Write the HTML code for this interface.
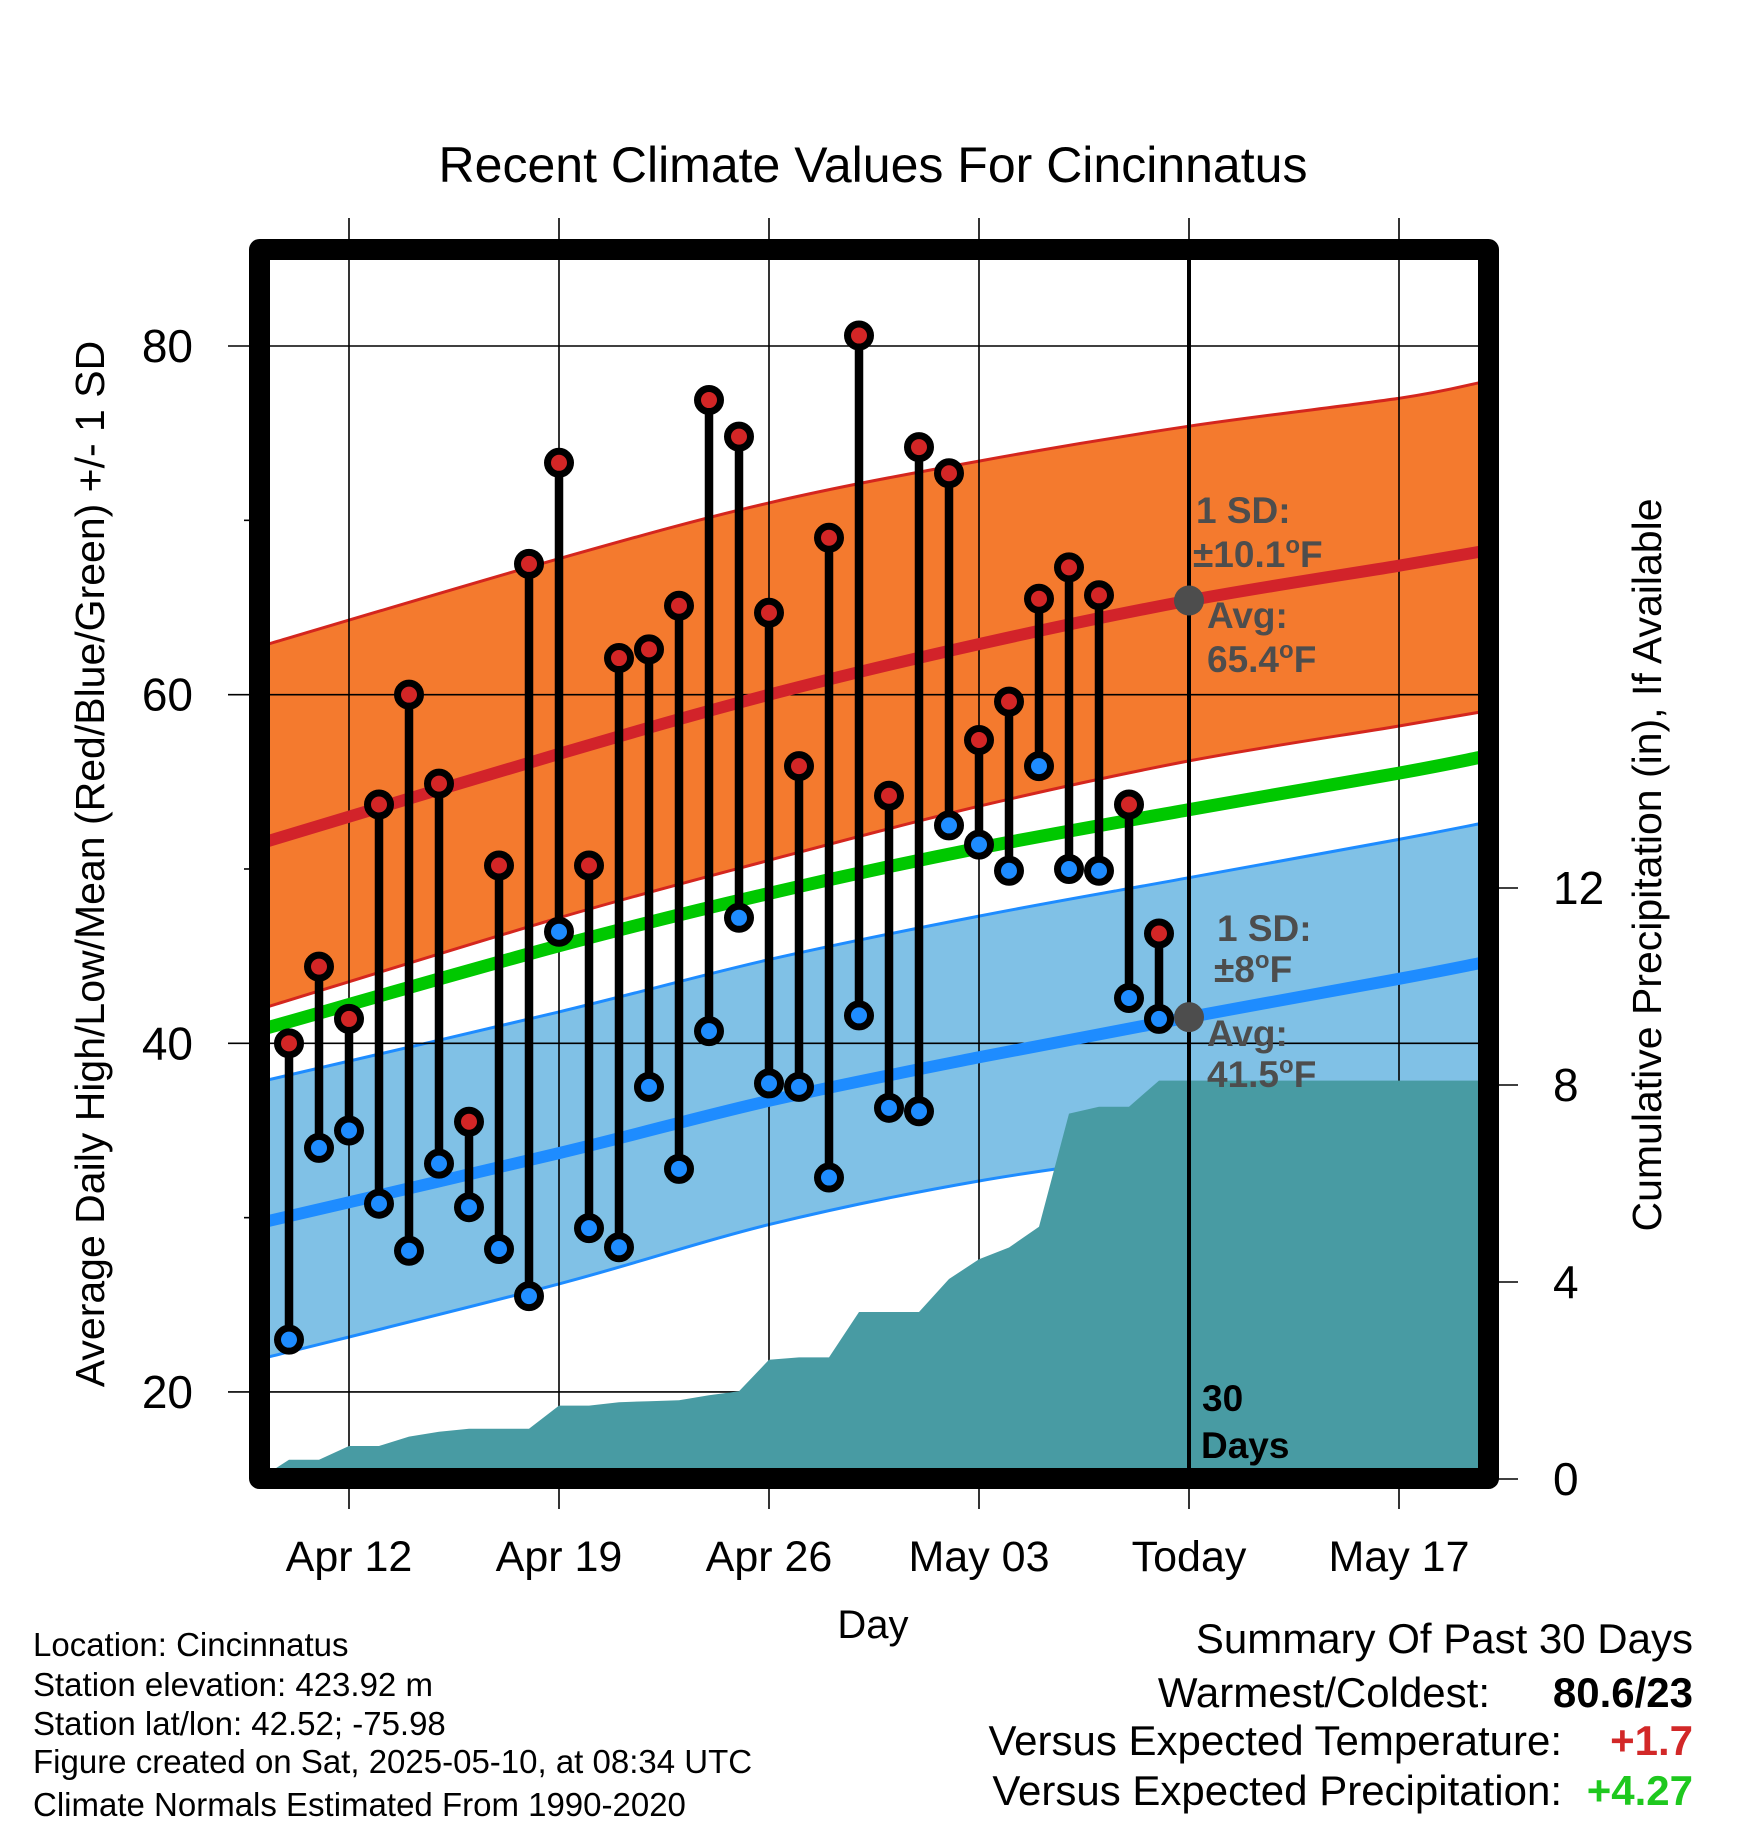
<!DOCTYPE html>
<html><head><meta charset="utf-8"><title>Recent Climate Values For Cincinnatus</title>
<style>
html,body{margin:0;padding:0;background:#fff;}
svg{display:block;font-family:"Liberation Sans",Arial,sans-serif;}
</style></head>
<body>
<svg id="chart" width="1748" height="1828" viewBox="0 0 1748 1828" xmlns="http://www.w3.org/2000/svg">
<defs><clipPath id="plotclip"><rect x="270" y="260" width="1208" height="1208"/></clipPath></defs>
<g id="layer-bands" clip-path="url(#plotclip)"></g>
<g id="layer-grid"></g>
<g id="layer-lines" clip-path="url(#plotclip)"></g>
<g id="layer-precip" clip-path="url(#plotclip)"></g>
<g id="layer-marks"></g>
<g id="layer-text"></g>
</svg>
<script>
// ---- data ----
const dayLabels = ["Apr 12","Apr 19","Apr 26","May 03","Today","May 17"];
const dayTicks = [0,7,14,21,28,35];
const tempTicks = [20,40,60,80];
const tempMinorTicks = [30,50,70];
const precipTicks = [0,4,8,12];
const obsDays = [-2,-1,0,1,2,3,4,5,6,7,8,9,10,11,12,13,14,15,16,17,18,19,20,21,22,23,24,25,26,27];
const highs = [40.0,44.4,41.4,53.7,60.0,54.9,35.5,50.2,67.5,73.3,50.2,62.1,62.6,65.1,76.9,74.8,64.7,55.9,69.0,80.6,54.2,74.2,72.7,57.4,59.6,65.5,67.3,65.7,53.7,46.3];
const lows = [23.0,34.0,35.0,30.8,28.1,33.1,30.6,28.2,25.5,46.4,29.4,28.3,37.5,32.8,40.7,47.2,37.7,37.5,32.3,41.6,36.3,36.1,52.5,51.4,49.9,55.9,50.0,49.9,42.6,41.4];
const precipDays = [-3,-2,-1,0,1,2,3,4,5,6,7,8,9,10,11,12,13,14,15,16,17,18,19,20,21,22,23,24,25,26,27,38];
const precip = [0,0.39,0.39,0.67,0.67,0.86,0.96,1.02,1.02,1.02,1.49,1.49,1.56,1.58,1.60,1.70,1.78,2.42,2.47,2.47,3.39,3.39,3.39,4.06,4.46,4.70,5.12,7.42,7.56,7.56,8.09,8.09];
const normDays = [-2.7,7,14,21,28,35,37.7];
const normHigh = [51.6,56.6,60.0,62.9,65.4,67.4,68.2];
const normHighTop = [62.9,67.8,71.0,73.4,75.4,77.0,77.9];
const normHighBot = [42.1,47.2,50.5,53.6,56.2,58.2,59.0];
const normMean = [40.9,45.6,48.6,51.2,53.4,55.5,56.4];
const normLow = [29.8,33.7,36.7,39.2,41.5,43.7,44.6];
const normLowTop = [37.9,41.8,44.8,47.3,49.5,51.7,52.6];
const normLowBot = [22.0,26.2,29.6,32.1,33.8,35.3,35.8];

// ---- axes ----
const X = d => 349 + 30.0 * d;
const Y = v => 346 + (80 - v) * 17.433;
const P = p => 1479 - 49.25 * p;
const NS = "http://www.w3.org/2000/svg";
function mk(tag, attrs, parent, txt){
  const e = document.createElementNS(NS, tag);
  for (const k in attrs) e.setAttribute(k, attrs[k]);
  if (txt !== undefined) e.textContent = txt;
  parent.appendChild(e);
  return e;
}
// smooth Catmull-Rom path through points (drawing only)
function smooth(days, vals, move){
  const p = days.map((d,i)=>[X(d), Y(vals[i])]);
  let s = (move ? 'M' : 'L') + p[0][0].toFixed(1)+','+p[0][1].toFixed(1);
  for (let i=0;i<p.length-1;i++){
    const p0 = p[Math.max(0,i-1)], p1=p[i], p2=p[i+1], p3=p[Math.min(p.length-1,i+2)];
    const c1=[p1[0]+(p2[0]-p0[0])/6, p1[1]+(p2[1]-p0[1])/6];
    const c2=[p2[0]-(p3[0]-p1[0])/6, p2[1]-(p3[1]-p1[1])/6];
    s += ' C'+c1[0].toFixed(1)+','+c1[1].toFixed(1)+' '+c2[0].toFixed(1)+','+c2[1].toFixed(1)+' '+p2[0].toFixed(1)+','+p2[1].toFixed(1);
  }
  return s;
}
const bandPath = (top, bot) => smooth(normDays, top, true) + ' ' + smooth(normDays.slice().reverse(), bot.slice().reverse(), false) + ' Z';
const bands = document.getElementById('layer-bands');
const grid = document.getElementById('layer-grid');
const lines = document.getElementById('layer-lines');
const prl = document.getElementById('layer-precip');
const marks = document.getElementById('layer-marks');
const txt = document.getElementById('layer-text');

let e;
e = mk('path',{d:bandPath(normHighTop,normHighBot),fill:'#f47a2e'},bands);


e = mk('path',{d:smooth(normDays,normHighTop,true),fill:'none',stroke:'#d4261e','stroke-width':3},bands);


e = mk('path',{d:smooth(normDays,normHighBot,true),fill:'none',stroke:'#d4261e','stroke-width':3},bands);


e = mk('path',{d:bandPath(normLowTop,normLowBot),fill:'#80c1e6'},bands);


e = mk('path',{d:smooth(normDays,normLowTop,true),fill:'none',stroke:'#1e8cff','stroke-width':3},bands);


e = mk('path',{d:smooth(normDays,normLowBot,true),fill:'none',stroke:'#1e8cff','stroke-width':3},bands);



// grid
dayTicks.forEach((d,i)=>{
  e = mk('line',{x1:X(d),x2:X(d),y1:218,y2:1509,stroke:'#000','stroke-width':1.6},grid);
  
  
  e = mk('text',{x:X(d),y:1571,'font-size':43,'text-anchor':'middle',fill:'#000'},txt,dayLabels[i]);
  
  
});
tempTicks.forEach(v=>{
  e = mk('line',{x1:228,x2:1478,y1:Y(v),y2:Y(v),stroke:'#000','stroke-width':1.6},grid);
  
  
  e = mk('text',{x:193,y:Y(v)+16,'font-size':46,'text-anchor':'end',fill:'#000'},txt,String(v));
  
  
});
tempMinorTicks.forEach(v=>{
  e = mk('line',{x1:244,x2:260,y1:Y(v),y2:Y(v),stroke:'#000','stroke-width':1.6},grid);
  
  
});
precipTicks.forEach(p=>{
  e = mk('line',{x1:1495,x2:1518,y1:P(p),y2:P(p),stroke:'#000','stroke-width':1.6},grid);
  
  
  e = mk('text',{x:1553,y:P(p)+16,'font-size':46,'text-anchor':'start',fill:'#000'},txt,String(p));
  
  
});

// normal lines
e = mk('path',{d:smooth(normDays,normHigh,true),fill:'none',stroke:'#d2232a','stroke-width':12},lines);


e = mk('path',{d:smooth(normDays,normMean,true),fill:'none',stroke:'#00c800','stroke-width':13},lines);


e = mk('path',{d:smooth(normDays,normLow,true),fill:'none',stroke:'#1e8cff','stroke-width':12},lines);



// precip area
let pp = precipDays.map((d,i)=>X(d).toFixed(1)+','+P(precip[i]).toFixed(1)).join(' ');
pp += ' '+X(precipDays[precipDays.length-1])+','+P(0)+' '+X(precipDays[0])+','+P(0);
e = mk('polygon',{points:pp,fill:'#489ba3'},prl);



// today line
e = mk('line',{x1:X(28),x2:X(28),y1:255,y2:1470,stroke:'#000','stroke-width':4},marks);



// stems and dots
obsDays.forEach((d,i)=>{
  e = mk('line',{x1:X(d),x2:X(d),y1:Y(highs[i]),y2:Y(lows[i]),stroke:'#000','stroke-width':8.5},marks);
  
  
});
obsDays.forEach((d,i)=>{
  e = mk('circle',{cx:X(d),cy:Y(highs[i]),r:11.5,fill:'#d32626',stroke:'#000','stroke-width':7},marks);
  
  
  e = mk('circle',{cx:X(d),cy:Y(lows[i]),r:11.5,fill:'#1e8cff',stroke:'#000','stroke-width':7},marks);
  
  
});
e = mk('circle',{cx:X(28),cy:Y(normHigh[4]),r:15,fill:'#4d4d4d'},marks);


e = mk('circle',{cx:X(28),cy:Y(normLow[4]),r:15,fill:'#4d4d4d'},marks);



// frame
e = mk('rect',{x:259.5,y:249.5,width:1229,height:1229,fill:'none',stroke:'#000','stroke-width':21,'stroke-linejoin':'round'},marks);


</script>
<svg style="position:absolute;left:0;top:0" width="1748" height="1828">
<g font-family="Liberation Sans, Arial, sans-serif">
<text x="873" y="182" font-size="50" text-anchor="middle">Recent Climate Values For Cincinnatus</text>
<text transform="translate(104,864) rotate(-90)" font-size="41" text-anchor="middle">Average Daily High/Low/Mean (Red/Blue/Green) +/- 1 SD</text>
<text transform="translate(1661,865) rotate(-90)" font-size="41" text-anchor="middle">Cumulative Precipitation (in), If Available</text>
<text x="873" y="1638" font-size="40" text-anchor="middle">Day</text>
<g font-size="37" font-weight="bold" fill="#4d4d4d">
<text x="1196" y="523">1 SD:</text>
<text x="1193" y="567">±10.1<tspan font-size="24" dy="-14">o</tspan><tspan dy="14">F</tspan></text>
<text x="1207" y="628">Avg:</text>
<text x="1207" y="672">65.4<tspan font-size="24" dy="-14">o</tspan><tspan dy="14">F</tspan></text>
</g>
<g font-size="37" font-weight="bold" fill="#4d4d4d">
<text x="1217" y="941">1 SD:</text>
<text x="1214" y="982">±8<tspan font-size="24" dy="-14">o</tspan><tspan dy="14">F</tspan></text>
<text x="1207" y="1046">Avg:</text>
<text x="1207" y="1087">41.5<tspan font-size="24" dy="-14">o</tspan><tspan dy="14">F</tspan></text>
</g>
<g font-size="37" font-weight="bold" fill="#000">
<text x="1202" y="1411">30</text>
<text x="1201" y="1458">Days</text>
</g>
<g font-size="33" fill="#000">
<text x="33" y="1656">Location: Cincinnatus</text>
<text x="33" y="1696">Station elevation: 423.92 m</text>
<text x="33" y="1735">Station lat/lon: 42.52; -75.98</text>
<text x="33" y="1773">Figure created on Sat, 2025-05-10, at 08:34 UTC</text>
<text x="33" y="1816">Climate Normals Estimated From 1990-2020</text>
</g>
<g font-size="42" fill="#000">
<text x="1693" y="1653" text-anchor="end">Summary Of Past 30 Days</text>
<text x="1490" y="1707" text-anchor="end">Warmest/Coldest:</text>
<text x="1693" y="1707" text-anchor="end" font-weight="bold">80.6/23</text>
<text x="1562" y="1755" text-anchor="end">Versus Expected Temperature:</text>
<text x="1693" y="1755" text-anchor="end" font-weight="bold" fill="#d22828">+1.7</text>
<text x="1562" y="1805" text-anchor="end">Versus Expected Precipitation:</text>
<text x="1693" y="1805" text-anchor="end" font-weight="bold" fill="#1ec81e">+4.27</text>
</g>
</g>
</svg>
</body></html>
